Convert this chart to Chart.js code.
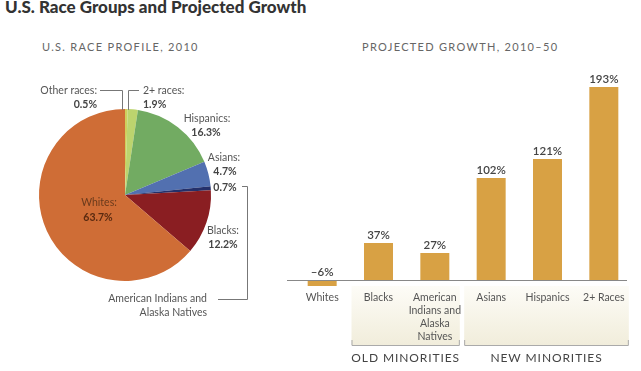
<!DOCTYPE html>
<html>
<head>
<meta charset="utf-8">
<script src="https://cdn.jsdelivr.net/npm/chart.js@4"></script>
<style>
  body { margin: 0; background: #fff; font-family: Lato, "Open Sans", sans-serif; }
  #wrap { position: relative; width: 641px; height: 371px; overflow: hidden; }
  .title { position: absolute; left: 5px; top: -4px; font-size: 17px; font-weight: 900; color: #333; letter-spacing: 0px; }
  .sub { position: absolute; top: 40px; font-size: 11px; color: #666; letter-spacing: 1.3px; }
  canvas { position: absolute; top: 0; }
</style>
</head>
<body>
<div id="wrap">
  <div class="title">U.S. Race Groups and Projected Growth</div>
  <div class="sub" style="left:42px">U.S. RACE PROFILE, 2010</div>
  <div class="sub" style="left:362px">PROJECTED GROWTH, 2010–50</div>
  <canvas id="pie" width="280" height="371" style="left:0;width:280px;height:371px"></canvas>
  <canvas id="bars" width="361" height="371" style="left:280px;width:361px;height:371px"></canvas>
</div>
<script>
// pie: race profile 2010 (percent)
var pieLabels = ['Other races', '2+ races', 'Hispanics', 'Asians', 'American Indians and Alaska Natives', 'Blacks', 'Whites'];
var pieValues = [0.5, 1.9, 16.3, 4.7, 0.7, 12.2, 63.7];
var pieColors = ['#cfcf5c', '#bcd46e', '#72ab62', '#5270b0', '#24306a', '#8a1e22', '#cf6d36'];

// bars: projected growth 2010-50 (percent)
var growthLabels = ['Whites', 'Blacks', ['American', 'Indians and', 'Alaska', 'Natives'], 'Asians', 'Hispanics', '2+ Races'];
var growthValues = [-6, 37, 27, 102, 121, 193];
var groups = [
  { name: 'OLD MINORITIES', from: 1, to: 2 },
  { name: 'NEW MINORITIES', from: 3, to: 5 }
];

var labelFont = '10.5px Lato, "Open Sans", sans-serif';
var boldFont = 'bold 10.5px Lato, "Open Sans", sans-serif';

function pct(v) { return v + '%'; }

// labels and leader lines around the pie
var pieNotes = {
  id: 'pieNotes',
  afterDraw: function(chart) {
    var ctx = chart.ctx;
    ctx.save();
    ctx.textBaseline = 'middle';
    function txt(s, x, y, align, bold, color) {
      ctx.font = bold ? boldFont : labelFont;
      ctx.fillStyle = color || '#555';
      ctx.textAlign = align;
      ctx.fillText(s, x, y);
    }
    txt('Other races:', 97, 91, 'right');
    txt(pct(pieValues[0]), 97, 105, 'right', true, '#444');
    txt('2+ races:', 143, 91, 'left');
    txt(pct(pieValues[1]), 143, 105, 'left', true, '#444');
    txt('Hispanics:', 207, 119, 'center');
    txt(pct(pieValues[2]), 206, 133, 'center', true, '#444');
    txt('Asians:', 224, 158, 'center');
    txt(pct(pieValues[3]), 225, 172, 'center', true, '#444');
    txt(pct(pieValues[4]), 225, 188, 'center', true, '#444');
    txt('Blacks:', 223, 231, 'center');
    txt(pct(pieValues[5]), 223, 245, 'center', true, '#444');
    txt('Whites:', 99, 203, 'center', false, '#6a3a1c');
    txt(pct(pieValues[6]), 98, 218, 'center', true, '#5a2a10');
    txt('American Indians and', 207, 299, 'right');
    txt('Alaska Natives', 207, 313, 'right');

    ctx.strokeStyle = '#777';
    ctx.lineWidth = 1;
    ctx.beginPath();
    ctx.moveTo(100, 90.5); ctx.lineTo(122.5, 90.5); ctx.lineTo(122.5, 110);
    ctx.moveTo(139, 90.5); ctx.lineTo(128.5, 90.5); ctx.lineTo(128.5, 110);
    ctx.moveTo(242, 186.5); ctx.lineTo(247.5, 186.5); ctx.lineTo(247.5, 299.5); ctx.lineTo(218, 299.5);
    ctx.stroke();
    ctx.restore();
  }
};

new Chart(document.getElementById('pie'), {
  type: 'pie',
  data: {
    labels: pieLabels,
    datasets: [{ data: pieValues, backgroundColor: pieColors, borderWidth: 0 }]
  },
  options: {
    responsive: false,
    animation: false,
    layout: { padding: { left: 39, right: 69, top: 109, bottom: 90 } },
    plugins: { legend: { display: false }, tooltip: { enabled: false } }
  },
  plugins: [pieNotes]
});

// group panels under the axis, zero line, value labels
var barNotes = {
  id: 'barNotes',
  beforeDraw: function(chart) {
    var ctx = chart.ctx, x = chart.scales.x;
    ctx.save();
    groups.forEach(function(g) {
      var l = x.getPixelForValue(g.from) - 27, r = x.getPixelForValue(g.to) + 25;
      var top = 286, bot = 345;
      var grad = ctx.createLinearGradient(0, top, 0, bot);
      grad.addColorStop(0, '#fdfcf7');
      grad.addColorStop(1, '#f1eddb');
      ctx.fillStyle = grad;
      ctx.fillRect(l, top, r - l, bot - top);
      ctx.strokeStyle = '#aaa';
      ctx.lineWidth = 1;
      ctx.beginPath();
      ctx.moveTo(l + 0.5, bot - 5); ctx.lineTo(l + 0.5, bot + 0.5);
      ctx.lineTo(r - 0.5, bot + 0.5); ctx.lineTo(r - 0.5, bot - 5);
      ctx.stroke();
      ctx.font = '12px Lato, "Open Sans", sans-serif';
      ctx.fillStyle = '#444';
      ctx.textAlign = 'center';
      ctx.textBaseline = 'middle';
      if (ctx.letterSpacing !== undefined) ctx.letterSpacing = '0.9px';
      ctx.fillText(g.name, (l + r) / 2, 358);
      if (ctx.letterSpacing !== undefined) ctx.letterSpacing = '0px';
    });
    ctx.restore();
  },
  afterDatasetsDraw: function(chart) {
    var ctx = chart.ctx, y = chart.scales.y, area = chart.chartArea;
    var meta = chart.getDatasetMeta(0);
    ctx.save();
    var y0 = Math.round(y.getPixelForValue(0)) + 0.5;
    ctx.strokeStyle = '#888';
    ctx.lineWidth = 1.2;
    ctx.beginPath();
    ctx.moveTo(area.left - 7, y0); ctx.lineTo(area.right - 5, y0);
    ctx.stroke();
    ctx.font = '600 11.5px Lato, "Open Sans", sans-serif';
    ctx.fillStyle = '#444';
    ctx.textAlign = 'center';
    ctx.textBaseline = 'bottom';
    meta.data.forEach(function(bar, i) {
      var v = growthValues[i];
      var top = v < 0 ? y.getPixelForValue(0) : bar.y;
      ctx.fillText((v < 0 ? '–' + (-v) : v) + '%', bar.x, top - 2);
    });
    ctx.restore();
  }
};

new Chart(document.getElementById('bars'), {
  type: 'bar',
  data: {
    labels: growthLabels,
    datasets: [{ data: growthValues, backgroundColor: '#d8a144', borderWidth: 0,
                 barPercentage: 0.62, categoryPercentage: 0.83 }]
  },
  options: {
    responsive: false,
    animation: false,
    layout: { padding: { left: 14, right: 9, top: 80, bottom: 0 } },
    scales: {
      x: {
        grid: { display: false },
        border: { display: false },
        ticks: { color: '#555', padding: -7, maxRotation: 0, autoSkip: false,
                 font: { family: 'Lato, "Open Sans", sans-serif', size: 10.5, lineHeight: 1.25 } },
        afterFit: function(axis) { axis.height = 81; }
      },
      y: {
        display: false,
        min: -10, max: 200
      }
    },
    plugins: { legend: { display: false }, tooltip: { enabled: false } }
  },
  plugins: [barNotes]
});
</script>
</body>
</html>
